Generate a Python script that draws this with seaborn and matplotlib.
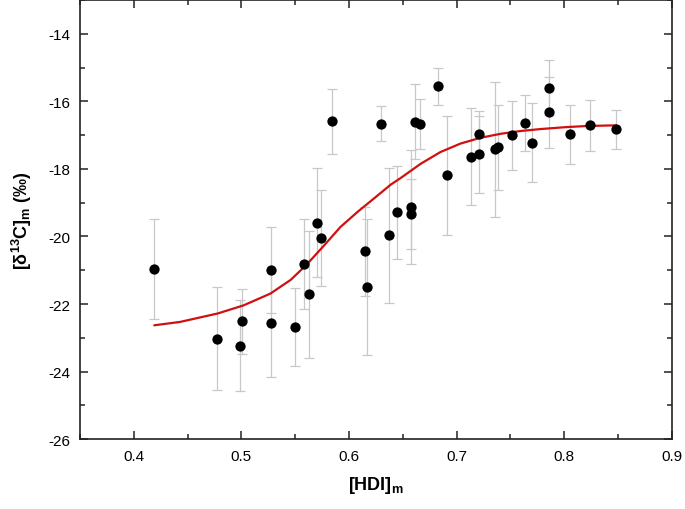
import numpy as np
import pandas as pd
import matplotlib
matplotlib.use("Agg")
from matplotlib import pyplot as plt
from matplotlib.ticker import MultipleLocator
import seaborn as sns

hdi = [0.419, 0.4775, 0.5007, 0.4989, 0.5273, 0.5273, 0.550, 0.5584, 0.563,
       0.570, 0.5742, 0.5844, 0.6144, 0.6165, 0.6293, 0.637, 0.6442, 0.658,
       0.658, 0.6609, 0.6655, 0.6823, 0.6913, 0.7129, 0.7207, 0.7207, 0.7355,
       0.738, 0.751, 0.7634, 0.7696, 0.7854, 0.7854, 0.8052, 0.8242, 0.8477]
d13c = [-20.97, -23.03, -22.51, -23.23, -21.00, -22.57, -22.68, -20.81, -21.71,
        -19.59, -20.05, -16.59, -20.44, -21.49, -16.66, -19.97, -19.28, -19.13,
        -19.33, -16.61, -16.68, -15.55, -18.19, -17.64, -16.98, -17.57, -17.42,
        -17.36, -17.01, -16.65, -17.22, -15.59, -16.32, -16.98, -16.71, -16.83]
err = [1.48, 1.53, 0.96, 1.35, 1.27, 1.59, 1.16, 1.34, 1.88,
       1.62, 1.43, 0.96, 1.31, 2.02, 0.51, 2.0, 1.38, 1.68,
       1.04, 1.11, 0.74, 0.55, 1.77, 1.44, 0.68, 1.15, 2.0,
       1.26, 1.01, 0.83, 1.18, 0.82, 1.05, 0.88, 0.76, 0.58]

# fitted sigmoid, points
fit_x = [0.419, 0.443, 0.478, 0.502, 0.527, 0.546, 0.561, 0.577, 0.592, 0.608,
         0.623, 0.639, 0.648, 0.6665, 0.685, 0.7036, 0.722, 0.741, 0.759,
         0.778, 0.803, 0.821, 0.848]
fit_y = [-22.63, -22.53, -22.28, -22.04, -21.69, -21.28, -20.82, -20.26, -19.72,
         -19.27, -18.88, -18.46, -18.27, -17.85, -17.50, -17.25, -17.08, -16.96,
         -16.88, -16.82, -16.76, -16.73, -16.71]

df = pd.DataFrame({"hdi": hdi, "d13c": d13c, "err": err})
fit = pd.DataFrame({"x": fit_x, "y": fit_y})

sns.set_style("ticks")
plt.rcParams["font.family"] = ["Liberation Sans", "DejaVu Sans"]
plt.rcParams["mathtext.fontset"] = "custom"
plt.rcParams["mathtext.rm"] = "Liberation Sans"
plt.rcParams["mathtext.bf"] = "Liberation Sans:bold"
plt.rcParams["axes.unicode_minus"] = False
plt.rcParams["text.color"] = "black"
plt.rcParams["axes.labelcolor"] = "black"

fig = plt.figure(figsize=(6.85, 5.1), dpi=100)
ax = fig.add_axes([0.1168, 0.137, 0.864, 0.861])

ax.errorbar(df["hdi"], df["d13c"], yerr=df["err"], fmt="none",
            ecolor="#c8c8c8", elinewidth=0.9, capsize=3.5, capthick=0.9, zorder=1)
sns.lineplot(data=fit, x="x", y="y", sort=False, color="#d01010",
             linewidth=1.6, ax=ax, zorder=2)
sns.scatterplot(data=df, x="hdi", y="d13c", color="black", s=55,
                edgecolor="black", linewidth=0, ax=ax, zorder=3)

ax.set_xlim(0.35, 0.9)
ax.set_ylim(-26, -13)
ax.xaxis.set_major_locator(MultipleLocator(0.1))
ax.xaxis.set_minor_locator(MultipleLocator(0.05))
ax.yaxis.set_major_locator(MultipleLocator(2))
ax.yaxis.set_minor_locator(MultipleLocator(1))
ax.tick_params(which="both", direction="in", top=True, right=True,
               color="#222222", labelcolor="black", labelsize=11, width=1.1)
ax.tick_params(which="major", length=6, pad=7)
ax.tick_params(which="minor", length=3.5)
for s in ax.spines.values():
    s.set_linewidth(1.2)
    s.set_color("#222222")

ax.set_xlabel(r"[HDI]$_{\mathbf{m}}$", fontsize=13, fontweight="bold", labelpad=8)
ax.set_ylabel(r"[δ$^{\mathbf{13}}$C]$_{\mathbf{m}}$ (‰)", fontsize=13,
              fontweight="bold", labelpad=10)

fig.savefig("out.png", dpi=100)
